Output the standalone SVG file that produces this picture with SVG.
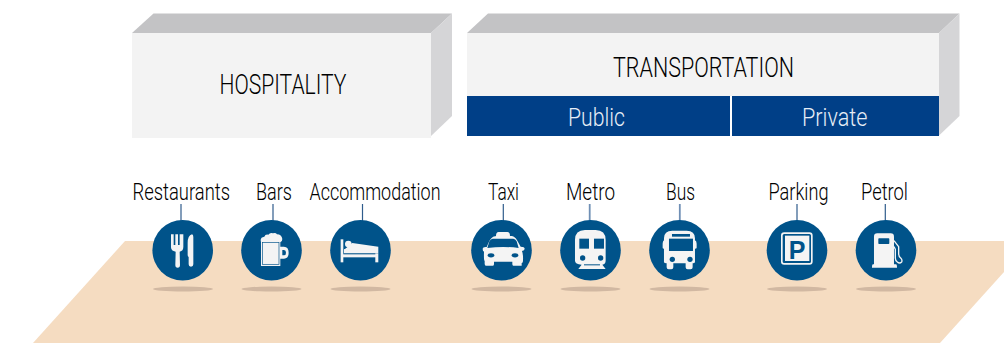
<svg xmlns="http://www.w3.org/2000/svg" width="1004" height="343" viewBox="0 0 1004 343">
<style>
.lbl{font-family:"Roboto","Liberation Sans",sans-serif;font-weight:300;fill:#000;font-size:23px}
.bar{font-family:"Roboto","Liberation Sans",sans-serif;font-weight:300;fill:#e6edf6;font-size:26.500px}
.head{font-family:"Roboto","Liberation Sans",sans-serif;font-weight:300;fill:#000;font-size:27.500px}
.top{fill:#c3c3c5}.side{fill:#d5d5d7}.front{fill:#f3f3f3}.blue{fill:#003f87}
.disc{fill:#00538a}.shadow{fill:#d1b8a2}.ic{fill:#f4f4f4}.cut{fill:#00538a}
.lead{stroke:#2f5c8c;stroke-width:1.2;fill:none}
.lead2{stroke:#6f8fb5;stroke-width:1.8;fill:none}
</style>
<polygon id="floor" points="125,241 1004,241 1004,272 940,343 33,343" fill="#f5dcc1"/>
<g id="hospitality">
<polygon class="top" points="132,33 153.5,13.5 452,13.5 431,33"/>
<polygon class="side" points="431,33 452,13.5 452,116 431,136"/>
<rect class="front" x="132" y="33" width="299" height="105"/>
<text class="head" x="219.500" y="94.300" textLength="127" lengthAdjust="spacingAndGlyphs">HOSPITALITY</text>
</g>
<g id="transportation">
<polygon class="top" points="467,33 488,13.5 959.5,13.5 939,33"/>
<polygon class="side" points="939,33 959.5,13.5 959.5,116 939,135.5"/>
<rect class="front" x="467" y="33" width="472" height="63"/>
<text class="head" x="613" y="77" textLength="181" lengthAdjust="spacingAndGlyphs">TRANSPORTATION</text>
</g>
<g id="public"><rect class="blue" x="467" y="96" width="263" height="40"/>
<text class="bar" x="568" y="125.500" textLength="57" lengthAdjust="spacingAndGlyphs">Public</text></g>
<g id="private"><rect class="blue" x="732" y="96" width="207" height="40"/>
<text class="bar" x="802" y="125.500" textLength="65.500" lengthAdjust="spacingAndGlyphs">Private</text></g>
<g id="connectors">
<path class="lead" d="M181 204V222"/><path class="lead" d="M273 204V222"/><path class="lead" d="M362.500 204V222"/>
<path class="lead" d="M503.300 204V222"/><path class="lead2" d="M589.700 204V222"/><path class="lead2" d="M679.800 204V222"/>
<path class="lead" d="M797 204V222"/><path class="lead" d="M885.300 204V222"/>
</g>
<g id="restaurants">
<ellipse class="shadow" cx="183" cy="289" rx="30" ry="2.500"/><circle class="disc" cx="182.700" cy="250.200" r="30.300"/>
<text class="lbl" x="132.500" y="200" textLength="97.500" lengthAdjust="spacingAndGlyphs">Restaurants</text>
<g class="ic" transform="translate(120 170) scale(.3333)">
<path d="M153 193h8v32h5v-32h8v32h5v-32h8l3 0v38q0 12-11 14l1 40q0 8-7 8t-7-8l1-40q-14-2-14-14z"/>
<path d="M216 193q4 0 4 8v82q0 7-7 7t-7-7v-22q-3-2-3-6v-36q0-22 13-26z"/>
</g></g>
<g id="bars">
<ellipse class="shadow" cx="271.500" cy="289" rx="30" ry="2.500"/><circle class="disc" cx="271.500" cy="250.200" r="30.300"/>
<text class="lbl" x="256" y="200" textLength="36" lengthAdjust="spacingAndGlyphs">Bars</text>
<g transform="translate(120 170) scale(.3333)">
<path class="ic" d="M423 288V216q-4-14 10-16q3-8 12-6q6-8 14-4q8-3 12 3q14 0 16 14q0 8-6 10V230h11q14 0 14 18t-14 18h-11v22z"/>
<path d="M487 240h5q6 0 6 8t-6 8h-5z" class="cut"/>
<rect x="428" y="218" width="49" height="65" fill="none" stroke="#00538a" stroke-width="2"/>
</g></g>
<g id="accommodation">
<ellipse class="shadow" cx="360.500" cy="289" rx="30" ry="2.500"/><circle class="disc" cx="360.500" cy="250.200" r="30.300"/>
<text class="lbl" x="309.500" y="200" textLength="131" lengthAdjust="spacingAndGlyphs">Accommodation</text>
<g class="ic" transform="translate(120 170) scale(.3333)">
<rect x="662" y="208" width="8" height="69"/><rect x="766" y="250" width="9" height="27"/><rect x="666" y="253" width="104" height="9"/>
<circle cx="685" cy="222" r="10"/><path d="M676 236L697 219L775 230V250H672V238z"/>
</g></g>
<g id="taxi">
<ellipse class="shadow" cx="501.500" cy="289" rx="30" ry="2.500"/><circle class="disc" cx="501.500" cy="250.200" r="30.300"/>
<text class="lbl" x="488" y="200" textLength="31" lengthAdjust="spacingAndGlyphs">Taxi</text>
<g transform="translate(460 170) scale(.3333)">
<path class="ic" d="M108 198q0-12 8-12h26q8 0 8 12h4q10 0 18 14l10 18q12 0 12 6t-8 7q4 10 3 30q0 6-4 6v8q0 0-2 0H160q-3 0-3-5v-7H102v7q0 5-3 5H78q-4 0-4-6v-8q-3-2-2-28q-4-1-4-8t12-6l8-18q8-14 18-14z"/>
<path class="cut" d="M98 206H160q6 0 10 8l6 20q-46-6-94 0l6-20q4-8 10-8z"/>
<ellipse class="cut" cx="93" cy="256" rx="10" ry="6.500"/><ellipse class="cut" cx="165" cy="256" rx="10" ry="6.500"/>
</g></g>
<g id="metro">
<ellipse class="shadow" cx="590.500" cy="289" rx="30" ry="2.500"/><circle class="disc" cx="590.500" cy="250.200" r="30.300"/>
<text class="lbl" x="566" y="200" textLength="49" lengthAdjust="spacingAndGlyphs">Metro</text>
<g transform="translate(460 170) scale(.3333)">
<path class="ic" d="M345 210q0-30 30-30h32q30 0 30 30v62q0 10-10 12l10 13H355l10-13q-20-2-20-12z"/>
<rect class="cut" x="358" y="206" width="29" height="30"/><rect class="cut" x="402" y="206" width="30" height="30"/>
<circle class="cut" cx="368" cy="264" r="8"/><circle class="cut" cx="422" cy="264" r="8"/>
<rect class="cut" x="372" y="283" width="48" height="3"/>
</g></g>
<g id="bus">
<ellipse class="shadow" cx="679.500" cy="289" rx="30" ry="2.500"/><circle class="disc" cx="679.500" cy="250.200" r="30.300"/>
<text class="lbl" x="666" y="200" textLength="29" lengthAdjust="spacingAndGlyphs">Bus</text>
<g transform="translate(460 170) scale(.3333)">
<path class="ic" d="M612 205q0-23 25-23h43q25 0 25 23v6q5 2 5 10v12q0 3-5 3v40q0 4-7 4v12q0 6-6 6h-9q-6 0-6-6v-12H640v12q0 6-6 6h-8q-6 0-6-6v-12q-8 0-8-4V236q-4 0-4-3V221q0-8 4-10z"/>
<rect class="cut" x="636" y="192" width="54" height="8"/><rect class="cut" x="627" y="206" width="72" height="37"/>
<circle class="cut" cx="637" cy="268" r="8"/><circle class="cut" cx="690" cy="268" r="8"/>
</g></g>
<g id="parking">
<ellipse class="shadow" cx="797" cy="289" rx="30" ry="2.500"/><circle class="disc" cx="797" cy="250.200" r="30.300"/>
<text class="lbl" x="768.500" y="200" textLength="60" lengthAdjust="spacingAndGlyphs">Parking</text>
<g transform="translate(750 170) scale(.3333)">
<rect x="95.500" y="189.500" width="90" height="92" rx="7" fill="none" stroke="#f4f4f4" stroke-width="5"/>
<rect class="ic" x="105" y="197" width="73" height="76"/>
</g>
<text x="797" y="258.500" text-anchor="middle" font-family="'Liberation Sans',sans-serif" font-weight="700" font-size="25" fill="#00538a">P</text>
</g>
<g id="petrol">
<ellipse class="shadow" cx="886" cy="289" rx="30" ry="2.500"/><circle class="disc" cx="886" cy="250.200" r="30.300"/>
<text class="lbl" x="861" y="200" textLength="47" lengthAdjust="spacingAndGlyphs">Petrol</text>
<g transform="translate(750 170) scale(.3333)">
<path class="ic" d="M372 200q0-10 10-10h40q10 0 10 10V283h6q3 0 3 10H366q0-10 3-10h3z"/>
<rect class="cut" x="385" y="205" width="33" height="17" rx="2"/>
<path d="M432 212L446 230V250q0 10 6 14q6 6 3 12q-6 6-13 0q-6-4-6-12V238L432 230" fill="none" stroke="#f4f4f4" stroke-width="4"/>
</g></g>
</svg>
